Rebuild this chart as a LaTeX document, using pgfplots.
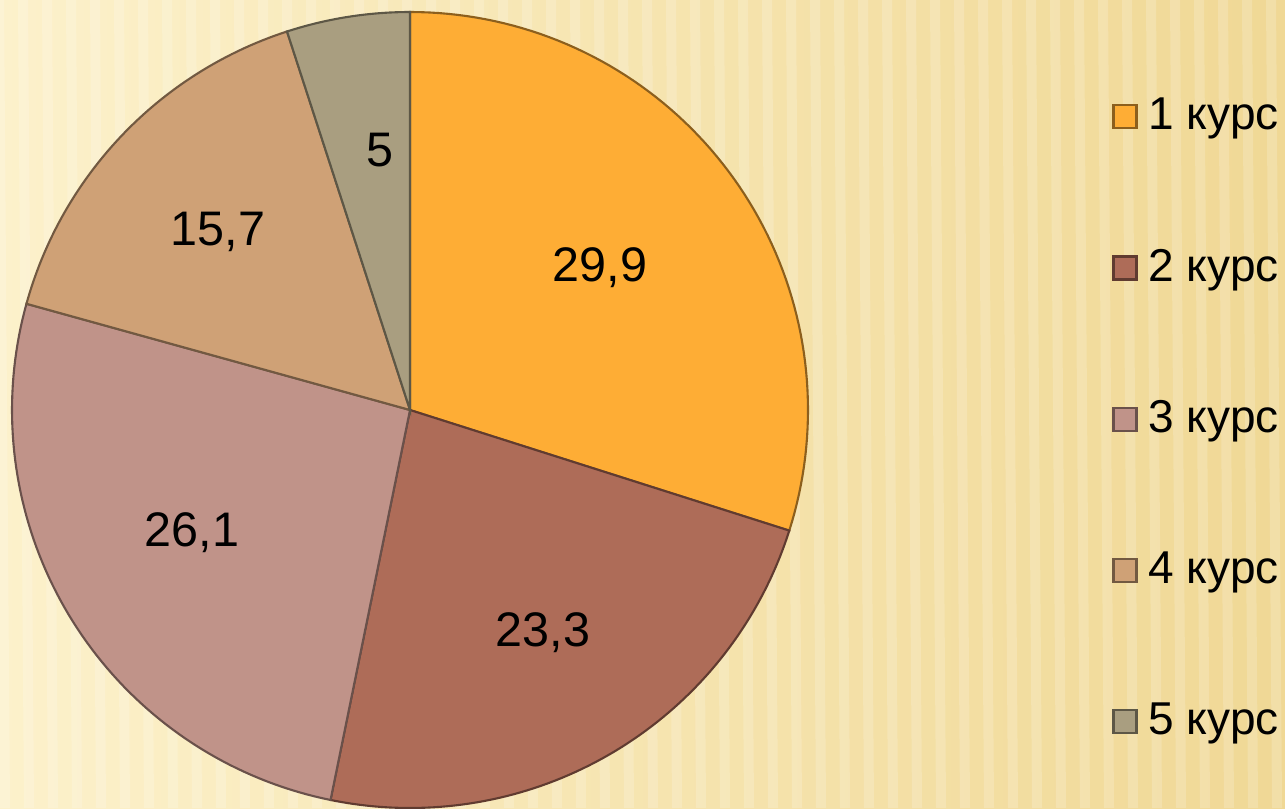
\documentclass[border=0pt]{standalone}
\usepackage{pgfplots}
\pgfplotsset{compat=1.18}
\usepackage{fontspec}
\setmainfont{Liberation Sans}

\definecolor{c1}{HTML}{FEAD35}
\definecolor{c2}{HTML}{AE6C58}
\definecolor{c3}{HTML}{C09389}
\definecolor{c4}{HTML}{CFA176}
\definecolor{c5}{HTML}{A99E80}
\definecolor{bgl}{HTML}{FCF1CB}
\definecolor{bgr}{HTML}{F0D895}

% shares in percent, clockwise from 12 o'clock
\def\va{29.9}
\def\vb{23.3}
\def\vc{26.1}
\def\vd{15.7}
\def\ve{5}

\begin{document}
\begin{tikzpicture}
\useasboundingbox (0,0) rectangle (128.5mm,80.8mm);
\clip (0,0) rectangle (128.5mm,80.8mm);
\shade[left color=bgl, right color=bgr] (0,0) rectangle (128.5mm,80.8mm);
\foreach \i in {0,...,55}
  \fill[white, opacity=0.18] ({\i*2.4mm},0) -- ({\i*2.4mm+1.0mm},0) -- ({\i*2.4mm+0.4mm},80.8mm) -- ({\i*2.4mm-0.6mm},80.8mm) -- cycle;

\pgfmathsetmacro\aa{90}
\pgfmathsetmacro\ab{\aa-3.6*\va}
\pgfmathsetmacro\ac{\ab-3.6*\vb}
\pgfmathsetmacro\ad{\ac-3.6*\vc}
\pgfmathsetmacro\ae{\ad-3.6*\vd}
\pgfmathsetmacro\af{\ae-3.6*\ve}

\begin{axis}[
    at={(41mm,39.8mm)}, anchor=origin,
    x=39.8mm, y=39.8mm,
    xmin=-1, xmax=1, ymin=-1, ymax=1,
    hide axis, clip=false,
    legend cell align=left,
    legend image code/.code={\draw[#1, line width=0.7pt] (0mm,-1.15mm) rectangle (2.3mm,1.15mm);},
    legend style={draw=none, fill=none, at={(1.368,0.909)}, anchor=north west,
        font=\fontsize{13.1}{15}\selectfont, row sep=10.2mm,
        nodes={inner ysep=0.6mm, inner xsep=1.1mm}},
]
\addplot[data cs=polar, fill=c1, draw=c1!55!black, line width=0.6pt, domain=\aa:\ab, samples=80] (x,1) -- (axis cs:0,0) -- cycle;
\addlegendentry{1 курс}
\addplot[data cs=polar, fill=c2, draw=c2!55!black, line width=0.6pt, domain=\ab:\ac, samples=80] (x,1) -- (axis cs:0,0) -- cycle;
\addlegendentry{2 курс}
\addplot[data cs=polar, fill=c3, draw=c3!55!black, line width=0.6pt, domain=\ac:\ad, samples=80] (x,1) -- (axis cs:0,0) -- cycle;
\addlegendentry{3 курс}
\addplot[data cs=polar, fill=c4, draw=c4!55!black, line width=0.6pt, domain=\ad:\ae, samples=60] (x,1) -- (axis cs:0,0) -- cycle;
\addlegendentry{4 курс}
\addplot[data cs=polar, fill=c5, draw=c5!55!black, line width=0.6pt, domain=\ae:\af, samples=30] (x,1) -- (axis cs:0,0) -- cycle;
\addlegendentry{5 курс}

\begin{scope}[font=\fontsize{13.8}{16}\selectfont]
\node at (axis cs:0.477,0.357) {29,9};
\node at (axis cs:0.334,-0.560) {23,3};
\node at (axis cs:-0.548,-0.309) {26,1};
\node at (axis cs:-0.482,0.447) {15,7};
\node at (axis cs:-0.075,0.653) {5};
\end{scope}
\end{axis}
\end{tikzpicture}
\end{document}
